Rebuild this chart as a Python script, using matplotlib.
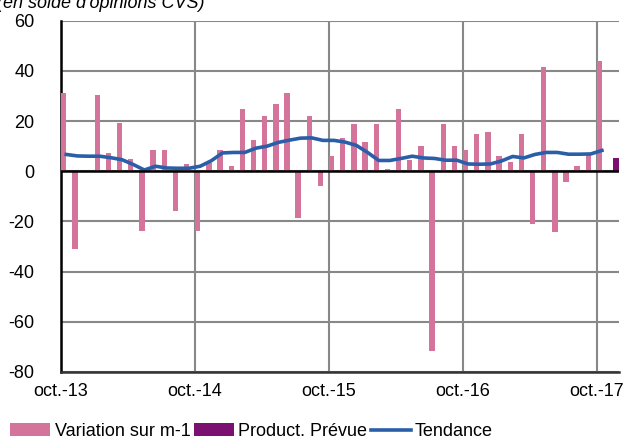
import numpy as np
import matplotlib.pyplot as plt

plt.rcParams['font.family'] = ['Liberation Sans', 'DejaVu Sans']
plt.rcParams['axes.unicode_minus'] = False

# variation sur m-1, d'oct.-13 a oct.-17 (49 mois)
variation = [31, -31, 0, 30.5, 7.3, 19.3, 4.9, -23.7, 8.3, 8.3, -15.7, 2.7,
             -23.7, 3.2, 8.3, 2, 25, 12.3, 21.9, 26.7, 31.3, -18.8, 21.9, -6,
             5.9, 13.1, 18.7, 11.5, 18.7, 1, 25, 4.3, 9.9, -71.7, 18.7, 9.9,
             8.3, 14.7, 15.5, 5.9, 3.5, 14.7, -21, 41.7, -24.3, -4.4, 1.9, 6.7,
             44]
# tendance
tendance = [6.7, 6.1, 6.0, 6.0, 5.4, 4.6, 2.7, 0.5, 2.0, 1.3, 1.2, 1.2,
            2.0, 4.2, 7.3, 7.5, 7.5, 9.2, 10.0, 11.5, 12.4, 13.2, 13.3, 12.3,
            12.3, 11.6, 10.3, 7.5, 4.3, 4.3, 5.1, 6.0, 5.3, 5.1, 4.4, 4.4,
            2.9, 2.8, 2.9, 4.1, 5.9, 5.3, 6.7, 7.5, 7.5, 6.8, 6.8, 6.9,
            8.3]
# production prevue (nov.-17)
prevue = [5.1]

tick_labels = ['oct.-13', 'oct.-14', 'oct.-15', 'oct.-16', 'oct.-17']

pink = '#D4749B'
purple = '#7B1070'
blue = '#2A5EA8'

n = len(variation)
idx = np.arange(n)

fig = plt.figure(figsize=(6.4, 4.42), dpi=100)
ax = fig.add_axes([61/640, 1 - 372/442, 558/640, (372 - 20.7)/442])

b1 = ax.bar(idx + 0.25, variation, width=0.48, color=pink, label='Variation sur m-1', zorder=3)
b2 = ax.bar(np.arange(n, n + len(prevue)) + 0.75, prevue, width=0.5, color=purple,
            label='Product. Prévue', zorder=3)
l1, = ax.plot(idx + 0.47, tendance, color=blue, linewidth=2.6, label='Tendance', zorder=4)

ax.set_xlim(0, 50)
ax.set_ylim(-80, 60)
ax.set_yticks(np.arange(-80, 61, 20))
ax.set_xticks(np.arange(0, 49, 12))
ax.set_xticklabels(tick_labels)
ax.tick_params(axis='both', length=0, labelsize=13)
ax.tick_params(axis='y', pad=19)
ax.tick_params(axis='x', pad=8)

ax.grid(True, color='#888888', linewidth=1.5, zorder=0)
ax.axhline(0, color='black', linewidth=1.8, zorder=5)
for s in ['top', 'right']:
    ax.spines[s].set_visible(False)
ax.spines['left'].set_linewidth(1.8)
ax.spines['bottom'].set_linewidth(1.8)
ax.spines['bottom'].set_color('#333333')

# titre coupe en haut, comme sur l'original
fig.text(-0.004, 1 - 8/442, "(en solde d'opinions CVS)", fontsize=13,
         style='italic', va='baseline', ha='left')

fig.legend(handles=[b1, b2, l1], loc='lower left', bbox_to_anchor=(0.005, -0.012),
           ncol=3, frameon=False, fontsize=13, handlelength=2.2, handletextpad=0.25,
           columnspacing=0.2, borderaxespad=0.0)

fig.savefig('out.png', dpi=100)
